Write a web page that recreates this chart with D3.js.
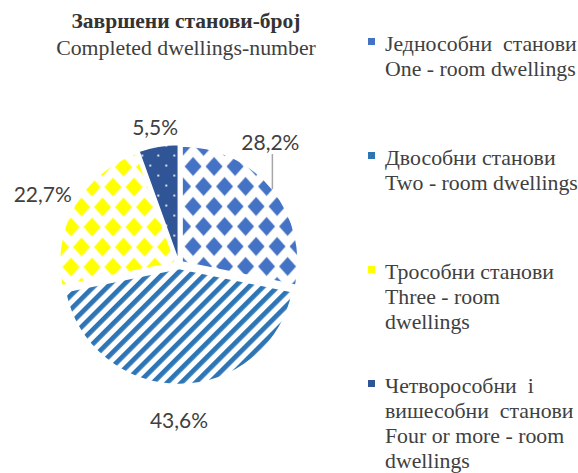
<!DOCTYPE html>
<html>
<head>
<meta charset="utf-8">
<script src="https://cdn.jsdelivr.net/npm/d3@7"></script>
<style>
  body { margin: 0; background: #fff; }
  svg { display: block; }
</style>
</head>
<body>
<div id="chart"></div>
<script>
// data
const categories = ["one", "two", "three", "four"];
const shares = [28.2, 43.6, 22.7, 5.5];
const shareLabels = ["28,2%", "43,6%", "22,7%", "5,5%"];
const legendLines = [
  ["Једнособни  станови", "One - room dwellings"],
  ["Двособни станови", "Two - room dwellings"],
  ["Трособни станови", "Three - room", "dwellings"],
  ["Четворособни  і", "вишесобни  станови", "Four or more - room", "dwellings"]
];
const titleLines = ["Завршени станови-број", "Completed dwellings-number"];

const width = 578, height = 473;
const cx = 179, cy = 264.5, radius = 116, explode = 4;
const colors = ["#4472C4", "#2E75B6", "#FFFF00", "#2F5597"];
const fills = ["url(#diam-blue)", "url(#stripes)", "url(#diam-yellow)", "url(#dots)"];
// label placement (Excel best fit): radius and angle shift in degrees
const labelRadius = [152, 156, 153, 139];
const labelShift = [-13.8, 0, -2.3, 0];

const svg = d3.select("#chart").append("svg")
  .attr("width", width).attr("height", height);

const defs = svg.append("defs");

function diamondPattern(id, color) {
  const p = defs.append("pattern").attr("id", id)
    .attr("patternUnits", "userSpaceOnUse")
    .attr("width", 21).attr("height", 40)
    .attr("x", cx).attr("y", cy);
  p.append("rect").attr("width", 21).attr("height", 40).attr("fill", "#fff");
  const pts = [[0, 0], [21, 0], [0, 40], [21, 40], [10.5, 20]];
  pts.forEach(([x, y]) => {
    p.append("path")
      .attr("d", `M${x},${y - 9.5}L${x + 8.5},${y}L${x},${y + 9.5}L${x - 8.5},${y}Z`)
      .attr("fill", color);
  });
}
diamondPattern("diam-blue", colors[0]);
diamondPattern("diam-yellow", colors[2]);

const stripes = defs.append("pattern").attr("id", "stripes")
  .attr("patternUnits", "userSpaceOnUse")
  .attr("width", 10).attr("height", 10)
  .attr("patternTransform", "rotate(-45)");
stripes.append("rect").attr("width", 10).attr("height", 10).attr("fill", "#fff");
stripes.append("rect").attr("width", 10).attr("height", 4.8).attr("fill", colors[1]);

const dots = defs.append("pattern").attr("id", "dots")
  .attr("patternUnits", "userSpaceOnUse")
  .attr("width", 16).attr("height", 20);
dots.append("rect").attr("width", 16).attr("height", 20).attr("fill", colors[3]);
[[4, 5], [12, 15]].forEach(([x, y]) => {
  dots.append("circle").attr("cx", x).attr("cy", y).attr("r", 1.1).attr("fill", "#fff");
});

// title
svg.append("text")
  .attr("x", 186).attr("y", 28)
  .attr("text-anchor", "middle")
  .style("font-family", "'Liberation Serif', serif")
  .style("font-size", "21.5px").style("font-weight", "bold")
  .attr("fill", "#333")
  .text(titleLines[0]);
svg.append("text")
  .attr("x", 186).attr("y", 55)
  .attr("text-anchor", "middle")
  .style("font-family", "'Liberation Serif', serif")
  .style("font-size", "21.8px")
  .attr("fill", "#404040")
  .text(titleLines[1]);

// pie
const pie = d3.pie().sort(null).value(d => d);
const arcs = pie(shares);
const arc = d3.arc().innerRadius(0).outerRadius(radius);

const g = svg.append("g").attr("transform", `translate(${cx},${cy})`);

function offset(d, r) {
  const a = (d.startAngle + d.endAngle) / 2;
  return [Math.sin(a) * r, -Math.cos(a) * r];
}

g.selectAll("path.slice")
  .data(arcs)
  .enter().append("path")
  .attr("class", "slice")
  .attr("transform", d => `translate(${offset(d, explode)})`)
  .attr("d", arc)
  .attr("fill", (d, i) => fills[i])
  .attr("stroke", "#fff")
  .attr("stroke-width", 1.5);

// labels
const labelPos = arcs.map((d, i) => {
  const a = (d.startAngle + d.endAngle) / 2 + labelShift[i] * Math.PI / 180;
  return [Math.sin(a) * labelRadius[i], -Math.cos(a) * labelRadius[i]];
});

g.selectAll("text.lbl")
  .data(arcs)
  .enter().append("text")
  .attr("class", "lbl")
  .attr("x", (d, i) => labelPos[i][0])
  .attr("y", (d, i) => labelPos[i][1] + 7)
  .attr("text-anchor", "middle")
  .style("font-family", "Lato, 'Liberation Sans', sans-serif")
  .style("font-size", "21px")
  .attr("fill", "#404040")
  .text((d, i) => shareLabels[i]);

// leader line for the first label, down to its slice edge
{
  const d = arcs[0];
  const [ox, oy] = offset(d, explode);
  const lx = labelPos[0][0] + 2;
  const ey = oy - Math.sqrt(radius * radius - (lx - ox) * (lx - ox));
  g.append("line")
    .attr("x1", lx).attr("x2", lx)
    .attr("y1", labelPos[0][1] + 11).attr("y2", ey)
    .attr("stroke", "#A6A6A6").attr("stroke-width", 1.5);
}

// legend
const legendY = d3.scaleLinear().domain([0, 1]).range([51, 165]);
const lg = svg.append("g");
const entry = lg.selectAll("g.entry")
  .data(legendLines)
  .enter().append("g")
  .attr("class", "entry")
  .attr("transform", (d, i) => `translate(368,${legendY(i)})`);

entry.append("rect")
  .attr("x", 0).attr("y", -13)
  .attr("width", 7).attr("height", 7)
  .attr("fill", (d, i) => colors[i]);

entry.append("text")
  .attr("x", 17)
  .style("font-family", "'Liberation Serif', serif")
  .style("font-size", "21.8px")
  .style("white-space", "pre")
  .attr("fill", "#404040")
  .selectAll("tspan")
  .data(d => d)
  .enter().append("tspan")
  .attr("x", 17)
  .attr("y", (d, j) => j * 25)
  .text(d => d);
</script>
</body>
</html>
